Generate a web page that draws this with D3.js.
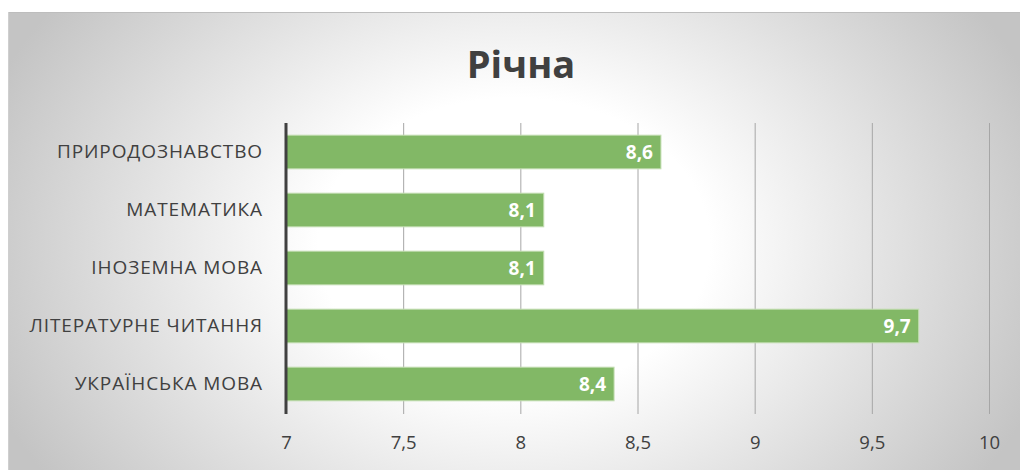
<!DOCTYPE html>
<html><head><meta charset="utf-8">
<script src="https://cdn.jsdelivr.net/npm/d3@7"></script>
<style>body{margin:0;background:#fff;}svg{display:block;}</style>
</head><body>
<svg id="c" width="1020" height="470"></svg>
<script>
const title = "Річна";
const categories = ["ПРИРОДОЗНАВСТВО","МАТЕМАТИКА","ІНОЗЕМНА МОВА","ЛІТЕРАТУРНЕ ЧИТАННЯ","УКРАЇНСЬКА МОВА"];
const values = [8.6, 8.1, 8.1, 9.7, 8.4];
const valueLabels = ["8,6","8,1","8,1","9,7","8,4"];
const xTicks = [7, 7.5, 8, 8.5, 9, 9.5, 10];
const xTickLabels = ["7","7,5","8","8,5","9","9,5","10"];

const svg = d3.select("#c");
const W = 1020, H = 470;
const defs = svg.append("defs");
const rg = defs.append("radialGradient").attr("id","bg")
  .attr("gradientUnits","userSpaceOnUse").attr("cx",514).attr("cy",245).attr("r",560)
  .attr("gradientTransform","translate(514,245) scale(1,0.75) translate(-514,-245)");
rg.append("stop").attr("offset","0.35").attr("stop-color","#ffffff");
rg.append("stop").attr("offset","1").attr("stop-color","#c4c4c4");
svg.append("rect").attr("x",8).attr("y",12).attr("width",W-8).attr("height",H-12).attr("fill","url(#bg)");
svg.append("line").attr("x1",8).attr("x2",W).attr("y1",12.5).attr("y2",12.5).attr("stroke","#bdbdbd");
svg.append("line").attr("x1",8.5).attr("x2",8.5).attr("y1",12).attr("y2",H).attr("stroke","#cfcfcf");

const font = "'Open Sans', sans-serif";
const x = d3.scaleLinear().domain([7,10]).range([286,989]);
const y = d3.scaleBand().domain(categories).range([123,413]).paddingInner(0.42).paddingOuter(0.21);

svg.append("text").attr("x",521).attr("y",78).attr("text-anchor","middle")
  .attr("font-family",font).attr("font-weight","bold").attr("font-size",38).attr("fill","#404040").text(title);

// gridlines
svg.append("g").selectAll("line").data(xTicks.slice(1)).join("line")
  .attr("x1",d=>x(d)+0.5).attr("x2",d=>x(d)+0.5).attr("y1",123).attr("y2",414)
  .attr("stroke","#a6a6a6").attr("stroke-width",1);

// x axis labels
const xa = svg.append("g").attr("transform","translate(0,413)")
  .call(d3.axisBottom(x).tickValues(xTicks).tickFormat((d,i)=>xTickLabels[i]).tickSize(0).tickPadding(23));
xa.select(".domain").remove();
xa.selectAll("text").attr("font-family",font).attr("font-size",18.5).attr("fill","#404040");

// bars
svg.append("g").selectAll("rect").data(categories).join("rect")
  .attr("x",x(7)).attr("y",d=>y(d)).attr("width",(d,i)=>x(values[i])-x(7)).attr("height",y.bandwidth())
  .attr("fill","#82b866").attr("stroke","#c3deb2").attr("stroke-width",1);

// value labels
svg.append("g").selectAll("text").data(categories).join("text")
  .attr("x",(d,i)=>x(values[i])-8).attr("y",d=>y(d)+y.bandwidth()/2).attr("dy","0.36em")
  .attr("text-anchor","end").attr("font-family",font).attr("font-weight","bold").attr("font-size",19)
  .attr("fill","#ffffff").text((d,i)=>valueLabels[i]);

// y axis
const ya = svg.append("g").attr("transform","translate(286,0)")
  .call(d3.axisLeft(y).tickSize(0).tickPadding(23));
ya.select(".domain").remove();
ya.selectAll("text").attr("font-family",font).attr("font-size",19).attr("letter-spacing",0.9).attr("fill","#404040");
svg.append("line").attr("x1",286).attr("x2",286).attr("y1",123).attr("y2",414)
  .attr("stroke","#404040").attr("stroke-width",3);
</script>
</body></html>
